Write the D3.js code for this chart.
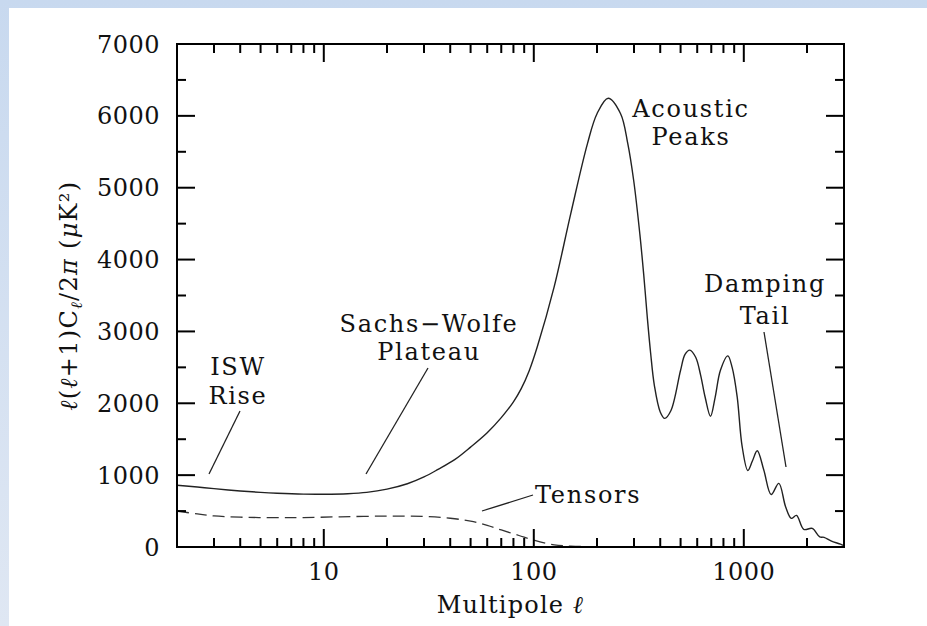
<!DOCTYPE html>
<html>
<head>
<meta charset="utf-8">
<script src="https://cdn.jsdelivr.net/npm/d3@7"></script>
<style>
  html, body { margin: 0; padding: 0; }
  body { width: 927px; height: 626px; overflow: hidden; background: #fff; }
  svg { display: block; }
  text { font-family: "DejaVu Serif", serif; fill: #111; }
</style>
</head>
<body>
<svg id="chart" width="927" height="626"></svg>
<script>
// ---- data ----
const multipoles = [2, 2.5, 3, 4, 5, 6, 8, 10, 13, 16, 20, 25, 30, 35, 42, 50, 60, 70, 80, 87, 95, 104, 125, 150, 180, 200, 226, 259, 280, 299, 320, 334, 347, 360, 375, 400, 420, 450, 500, 525, 553, 590, 622, 655, 694, 730, 774, 839, 880, 930, 982, 1045, 1100, 1159, 1245, 1350, 1468, 1581, 1683, 1782, 1930, 2118, 2300, 2411, 2600, 2886, 3000];
const power = [860, 835, 812, 780, 760, 748, 736, 735, 742, 760, 805, 880, 975, 1080, 1215, 1390, 1590, 1800, 2020, 2200, 2450, 2790, 3620, 4640, 5610, 6030, 6245, 6030, 5620, 5100, 4350, 3780, 3200, 2700, 2250, 1880, 1790, 1900, 2460, 2680, 2740, 2640, 2400, 2080, 1820, 2080, 2460, 2660, 2500, 2090, 1400, 1065, 1200, 1340, 1072, 730, 886, 561, 399, 440, 245, 258, 140, 135, 85, 40, 20];
const tensorMultipoles = [2, 2.5, 3, 4, 6, 8, 12, 20, 30, 40, 50, 60, 70, 85, 100, 125, 150, 200, 300];
const tensorPower = [500, 460, 432, 415, 408, 410, 420, 430, 425, 400, 360, 300, 237, 160, 95, 30, 12, 5, 3];
const xTickValues = [10, 100, 1000];
const xTickLabels = ["10", "100", "1000"];
const xMinorTicks = [2,3,4,5,6,7,8,9,20,30,40,50,60,70,80,90,200,300,400,500,600,700,800,900,2000,3000];
const yTickValues = [0, 1000, 2000, 3000, 4000, 5000, 6000, 7000];
const yMinorTicks = [500, 1500, 2500, 3500, 4500, 5500, 6500];

// ---- layout ----
const svg = d3.select("#chart");
const L = 177, R = 844, T = 44, B = 547;
const x = d3.scaleLog().domain([2, 3000]).range([L, R]);
const y = d3.scaleLinear().domain([0, 7000]).range([B, T]);

// background frame (slide border)
const defs = svg.append("defs");
const grad = defs.append("linearGradient").attr("id", "bg").attr("x1", 0).attr("y1", 0).attr("x2", 0).attr("y2", 1);
grad.append("stop").attr("offset", "0%").attr("stop-color", "#c8d9ef");
grad.append("stop").attr("offset", "100%").attr("stop-color", "#dfe7f3");
svg.append("rect").attr("x", 0).attr("y", 0).attr("width", 927).attr("height", 626).attr("fill", "url(#bg)");
svg.append("rect").attr("x", 9).attr("y", 8).attr("width", 918).attr("height", 618).attr("fill", "#fff");

// ---- curves ----
const line = d3.line().x(d => x(d[0])).y(d => y(d[1])).curve(d3.curveCatmullRom.alpha(0.5));
svg.append("path")
  .datum(tensorMultipoles.map((m, i) => [m, tensorPower[i]]))
  .attr("d", line).attr("fill", "none").attr("stroke", "#333").attr("stroke-width", 1.3)
  .attr("stroke-dasharray", "12,6");
svg.append("path")
  .datum(multipoles.map((m, i) => [m, power[i]]))
  .attr("d", line).attr("fill", "none").attr("stroke", "#222").attr("stroke-width", 1.4);

// ---- axes (ticks inward, on all four sides) ----
const ax = svg.append("g").attr("stroke", "#000").attr("stroke-width", 2);
function xt(v, len) {
  ax.append("line").attr("x1", x(v)).attr("x2", x(v)).attr("y1", B).attr("y2", B - len);
  ax.append("line").attr("x1", x(v)).attr("x2", x(v)).attr("y1", T).attr("y2", T + len);
}
function yt(v, len) {
  ax.append("line").attr("y1", y(v)).attr("y2", y(v)).attr("x1", L).attr("x2", L + len);
  ax.append("line").attr("y1", y(v)).attr("y2", y(v)).attr("x1", R).attr("x2", R - len);
}
xTickValues.forEach(v => xt(v, 18));
xMinorTicks.forEach(v => xt(v, 9));
yTickValues.forEach(v => yt(v, 18));
yMinorTicks.forEach(v => yt(v, 9));
ax.append("rect").attr("x", L).attr("y", T).attr("width", R - L).attr("height", B - T).attr("fill", "none");

// tick labels
svg.append("g").selectAll("text").data(xTickValues).join("text")
  .attr("x", d => x(d)).attr("y", 580).attr("text-anchor", "middle")
  .attr("font-size", 24).attr("letter-spacing", 0.5)
  .text((d, i) => xTickLabels[i]);
svg.append("g").selectAll("text").data(yTickValues).join("text")
  .attr("x", 160).attr("y", d => y(d)).attr("dy", "0.36em").attr("text-anchor", "end")
  .attr("font-size", 24).attr("letter-spacing", 0.5)
  .text(d => d3.format("d")(d));

// axis titles
const xt1 = svg.append("text").attr("x", (L + R) / 2).attr("y", 613).attr("text-anchor", "middle")
  .attr("font-size", 24).attr("letter-spacing", 1.2);
xt1.append("tspan").text("Multipole ");
xt1.append("tspan").attr("font-style", "italic").text("ℓ");

const yt1 = svg.append("text").attr("transform", `translate(77,${(T + B) / 2}) rotate(-90)`)
  .attr("text-anchor", "middle").attr("font-size", 24).attr("letter-spacing", 1.3);
yt1.append("tspan").attr("font-style", "italic").text("ℓ");
yt1.append("tspan").text("(");
yt1.append("tspan").attr("font-style", "italic").text("ℓ");
yt1.append("tspan").text("+1)C");
yt1.append("tspan").attr("font-style", "italic").attr("font-size", 16).attr("dy", 5).text("ℓ");
yt1.append("tspan").attr("dy", -5).text("/2");
yt1.append("tspan").attr("font-style", "italic").text("π");
yt1.append("tspan").text(" (");
yt1.append("tspan").attr("font-style", "italic").text("μ");
yt1.append("tspan").text("K²)");

// ---- annotations ----
const ann = svg.append("g").attr("font-size", 24).attr("letter-spacing", 1.7).attr("text-anchor", "middle");
function label(lines, cx, baseY, gap) {
  lines.forEach((t, i) => ann.append("text").attr("x", cx).attr("y", baseY + i * gap).text(t));
}
label(["ISW", "Rise"], 238, 375, 29);
label(["Sachs\u2212Wolfe", "Plateau"], 429, 332, 28);
label(["Acoustic", "Peaks"], 691, 117, 28);
label(["Damping", "Tail"], 765, 292, 32);
ann.append("text").attr("x", 535).attr("y", 503).attr("text-anchor", "start").text("Tensors");

const pointers = svg.append("g").attr("stroke", "#222").attr("stroke-width", 1.3);
[[240, 411, 209, 474], [428, 368, 366, 474], [764, 332, 786, 467], [533, 495, 482, 511]]
  .forEach(p => pointers.append("line").attr("x1", p[0]).attr("y1", p[1]).attr("x2", p[2]).attr("y2", p[3]));
</script>
</body>
</html>
